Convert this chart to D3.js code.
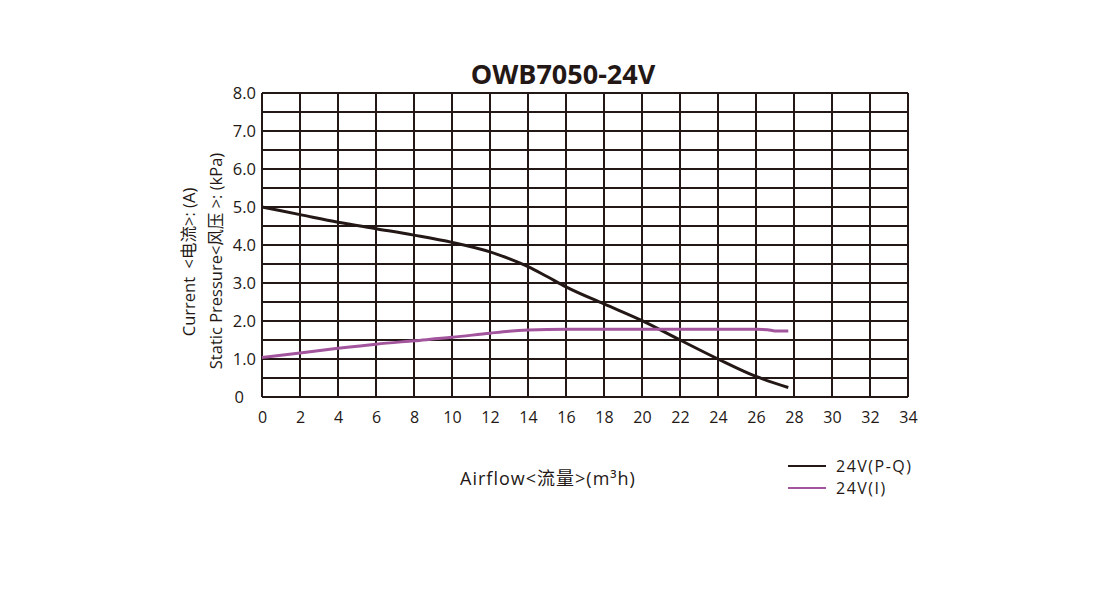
<!DOCTYPE html>
<html>
<head>
<meta charset="utf-8">
<script src="https://cdn.jsdelivr.net/npm/d3@7"></script>
<style>
  body { margin: 0; background: #fff; }
  text { font-family: "Open Sans", "Noto Sans CJK SC", sans-serif; fill: #231815; white-space: pre; }
</style>
</head>
<body>
<div id="chart"></div>
<script>
const width = 1114, height = 590;

// data
const airflowPQ = [0, 2, 4, 6, 8, 10, 12, 13, 14, 15, 16, 18, 20, 22, 24, 26, 27.7];
const pressurePQ = [5.0, 4.8, 4.6, 4.43, 4.26, 4.07, 3.82, 3.64, 3.43, 3.17, 2.9, 2.45, 2.01, 1.5, 1.0, 0.54, 0.25];
const airflowI = [0, 2, 4, 6, 8, 10, 12, 13, 14, 16, 18, 20, 22, 24, 26, 26.6, 27, 27.7];
const currentI = [1.04, 1.16, 1.28, 1.39, 1.48, 1.57, 1.68, 1.73, 1.76, 1.78, 1.78, 1.78, 1.78, 1.78, 1.78, 1.77, 1.74, 1.74];
const xTicks = [0, 2, 4, 6, 8, 10, 12, 14, 16, 18, 20, 22, 24, 26, 28, 30, 32, 34];
const yTicks = [0, 1, 2, 3, 4, 5, 6, 7, 8];
const series = [
  { name: "24V(P-Q)", color: "#231815", xs: airflowPQ, ys: pressurePQ },
  { name: "24V(I)", color: "#a2559d", xs: airflowI, ys: currentI }
];

const margin = { left: 262, top: 93, right: 206, bottom: 193 };
const w = width - margin.left - margin.right;
const h = height - margin.top - margin.bottom;

const svg = d3.select("#chart").append("svg")
    .attr("width", width)
    .attr("height", height);

const x = d3.scaleLinear().domain([0, 34]).range([0, w]);
const y = d3.scaleLinear().domain([0, 8]).range([h, 0]);

const g = svg.append("g").attr("transform", `translate(${margin.left},${margin.top})`);

// grid: vertical every 2, horizontal every 0.5
g.selectAll("line.v")
  .data(xTicks)
  .enter().append("line")
    .attr("class", "v")
    .attr("x1", d => x(d)).attr("x2", d => x(d))
    .attr("y1", 0).attr("y2", h)
    .attr("stroke", "#231815").attr("stroke-width", 2);

g.selectAll("line.h")
  .data(d3.range(0, 8.01, 0.5))
  .enter().append("line")
    .attr("class", "h")
    .attr("x1", 0).attr("x2", w)
    .attr("y1", d => y(d)).attr("y2", d => y(d))
    .attr("stroke", "#231815").attr("stroke-width", 2);

// axes (labels only)
const xAxis = g.append("g")
    .attr("transform", `translate(0,${h})`)
    .call(d3.axisBottom(x).tickValues(xTicks).tickSize(0).tickPadding(15));
xAxis.select(".domain").remove();
xAxis.selectAll("text").style("font-size", "16px").attr("fill", "#231815");

const yAxis = g.append("g")
    .call(d3.axisLeft(y).tickValues(yTicks).tickSize(0).tickPadding(6)
      .tickFormat(d => d === 0 ? "0" : d3.format(".1f")(d)));
yAxis.select(".domain").remove();
yAxis.selectAll("text").style("font-size", "16.5px").attr("fill", "#231815");
yAxis.selectAll(".tick").filter(d => d === 0).select("text").attr("dx", -12);

// curves
const line = d3.line().curve(d3.curveMonotoneX);
series.forEach(s => {
  g.append("path")
    .datum(s.xs.map((v, i) => [x(v), y(s.ys[i])]))
    .attr("d", line)
    .attr("fill", "none")
    .attr("stroke", s.color)
    .attr("stroke-width", 3);
});

// title
svg.append("text")
  .attr("x", 563).attr("y", 84)
  .attr("text-anchor", "middle")
  .style("font-size", "27px").style("font-weight", "bold")
  .attr("fill", "#000")
  .text("OWB7050-24V");

// y titles
svg.append("text")
  .attr("transform", "translate(195,262) rotate(-90)")
  .attr("text-anchor", "middle")
  .style("font-size", "16.5px")
  .text("Current  <电流>: (A)");
svg.append("text")
  .attr("transform", "translate(222,261) rotate(-90)")
  .attr("text-anchor", "middle")
  .style("font-size", "16.5px")
  .text("Static Pressure<风压 >: (kPa)");

// x title
svg.append("text")
  .attr("x", 548).attr("y", 485)
  .attr("text-anchor", "middle")
  .style("font-size", "18px")
  .style("letter-spacing", "1px")
  .text("Airflow<流量>(m³h)");

// legend
const legend = svg.append("g").attr("transform", "translate(788,466)");
legend.selectAll("g")
  .data(series)
  .enter().append("g")
    .attr("transform", (d, i) => `translate(0,${i * 22})`)
    .each(function(d) {
      const s = d3.select(this);
      s.append("line").attr("x1", 0).attr("x2", 38).attr("y1", 0).attr("y2", 0)
        .attr("stroke", d.color).attr("stroke-width", 2);
      s.append("text").attr("x", 48).attr("y", 6)
        .style("font-size", "16px").style("letter-spacing", "1.5px")
        .text(d.name);
    });
</script>
</body>
</html>
